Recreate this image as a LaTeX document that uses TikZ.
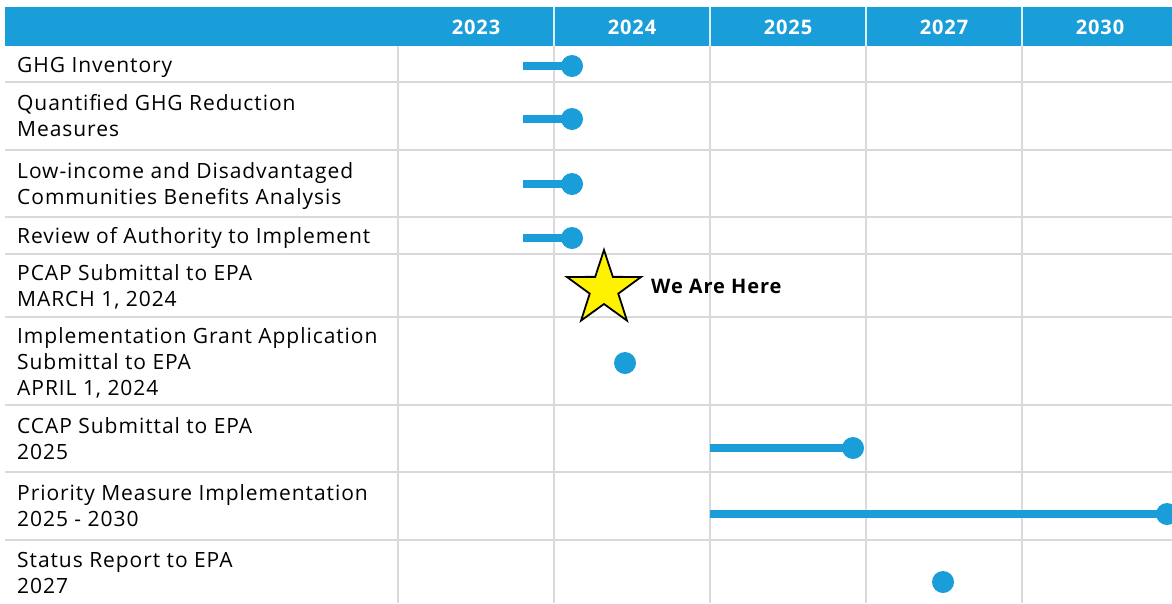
\documentclass[tikz,border=0pt]{standalone}
\usepackage{fontspec}
\setmainfont{Open Sans}
\newfontfamily\wideFont{Open Sans}[LetterSpace=4.5]
\usetikzlibrary{positioning,shapes.geometric}
\tikzstyle{chart} = [x = 1pt, y = -1pt]
\definecolor{barColor}{RGB}{26,158,217}
\definecolor{gridColor}{RGB}{217,217,217}
\definecolor{starColor}{RGB}{255,242,0}
\tikzstyle{gridLine} = [color=gridColor, line width=2pt]
\tikzstyle{headerLine} = [color=white!85!barColor, line width=1.5pt]
\tikzstyle{yearText} = [color=white, font=\wideFont\fontsize{20}{24}\selectfont\bfseries]
\tikzstyle{taskText} = [anchor=base west, align=left, inner sep=0, font=\wideFont\fontsize{21}{26}\selectfont]
\tikzstyle{barLine} = [color=barColor, line width=7.5pt]
\tikzstyle{dotStyle} = [circle, fill=barColor, minimum size=22pt, inner sep=0]
\tikzstyle{starStyle} = [star, star points=5, star point ratio=2.6, minimum size=78pt, inner sep=0, fill=starColor, draw=black, line width=1.8pt]
\tikzstyle{hereText} = [anchor=west, inner sep=0, font=\wideFont\fontsize{20}{24}\selectfont\bfseries]
\newcommand{\verticalGridLine}[1]{\draw [gridLine] (#1, 46) -- (#1, 603);}
\newcommand{\horizontalGridLine}[1]{\draw [gridLine] (5, #1) -- (1172, #1);}
\newcommand{\milestone}[3]{\node [dotStyle] (#1) at (#2, #3) {};}
\newcommand{\taskBar}[4]{
  \coordinate (#1Start) at (#2, #4);
  \node [dotStyle] (#1) at (#3, #4) {};
  \draw [barLine] (#1Start) -- (#1.center);
}

\begin{document}
\begin{tikzpicture}[chart]
  \useasboundingbox (0,0) rectangle (1172,603);
  % header
  \fill [barColor] (5,7) rectangle (1172,46);
  \foreach \column in {554,710,866,1022} {
    \draw [headerLine] (\column,7) -- (\column,46);
  }
  \foreach \year/\middle in {2023/476,2024/632,2025/788,2027/944,2030/1100} {
    \node [yearText] (year\year) at (\middle,27) {\year};
  }
  % grid
  \foreach \column in {398,554,710,866,1022} {
    \verticalGridLine{\column}
  }
  \foreach \row in {82,150,217,254,317,405,472,540} {
    \horizontalGridLine{\row}
  }
  % tasks (base = last line)
  \node [taskText] (ghgText) at (17,72.5) {GHG Inventory};
  \node [taskText] (quantText) at (17,136.5) {Quantified GHG Reduction\\Measures};
  \node [taskText] (lidacText) at (17,204) {Low-income and Disadvantaged\\Communities Benefits Analysis};
  \node [taskText] (reviewText) at (17,243) {Review of Authority to Implement};
  \node [taskText] (pcapText) at (17,306) {PCAP Submittal to EPA\\MARCH 1, 2024};
  \node [taskText] (grantText) at (17,395) {Implementation Grant Application\\Submittal to EPA\\APRIL 1, 2024};
  \node [taskText] (ccapText) at (17,459) {CCAP Submittal to EPA\\2025};
  \node [taskText] (priorityText) at (17,526.5) {Priority Measure Implementation\\2025 - 2030};
  \node [taskText] (statusText) at (17,593.5) {Status Report to EPA\\2027};
  % bars and milestones
  \taskBar{ghg}{523}{572}{66}
  \taskBar{quant}{523}{572}{119}
  \taskBar{lidac}{523}{572}{184}
  \taskBar{review}{523}{572}{238}
  \milestone{grant}{625}{363}
  \taskBar{ccap}{710}{853}{448}
  \taskBar{priority}{710}{1167}{514}
  \milestone{status}{943}{582}
  % we are here
  \node [starStyle] (here) at (604,289) {};
  \node [hereText] (hereText) at (651,286) {We Are Here};
\end{tikzpicture}
\end{document}
